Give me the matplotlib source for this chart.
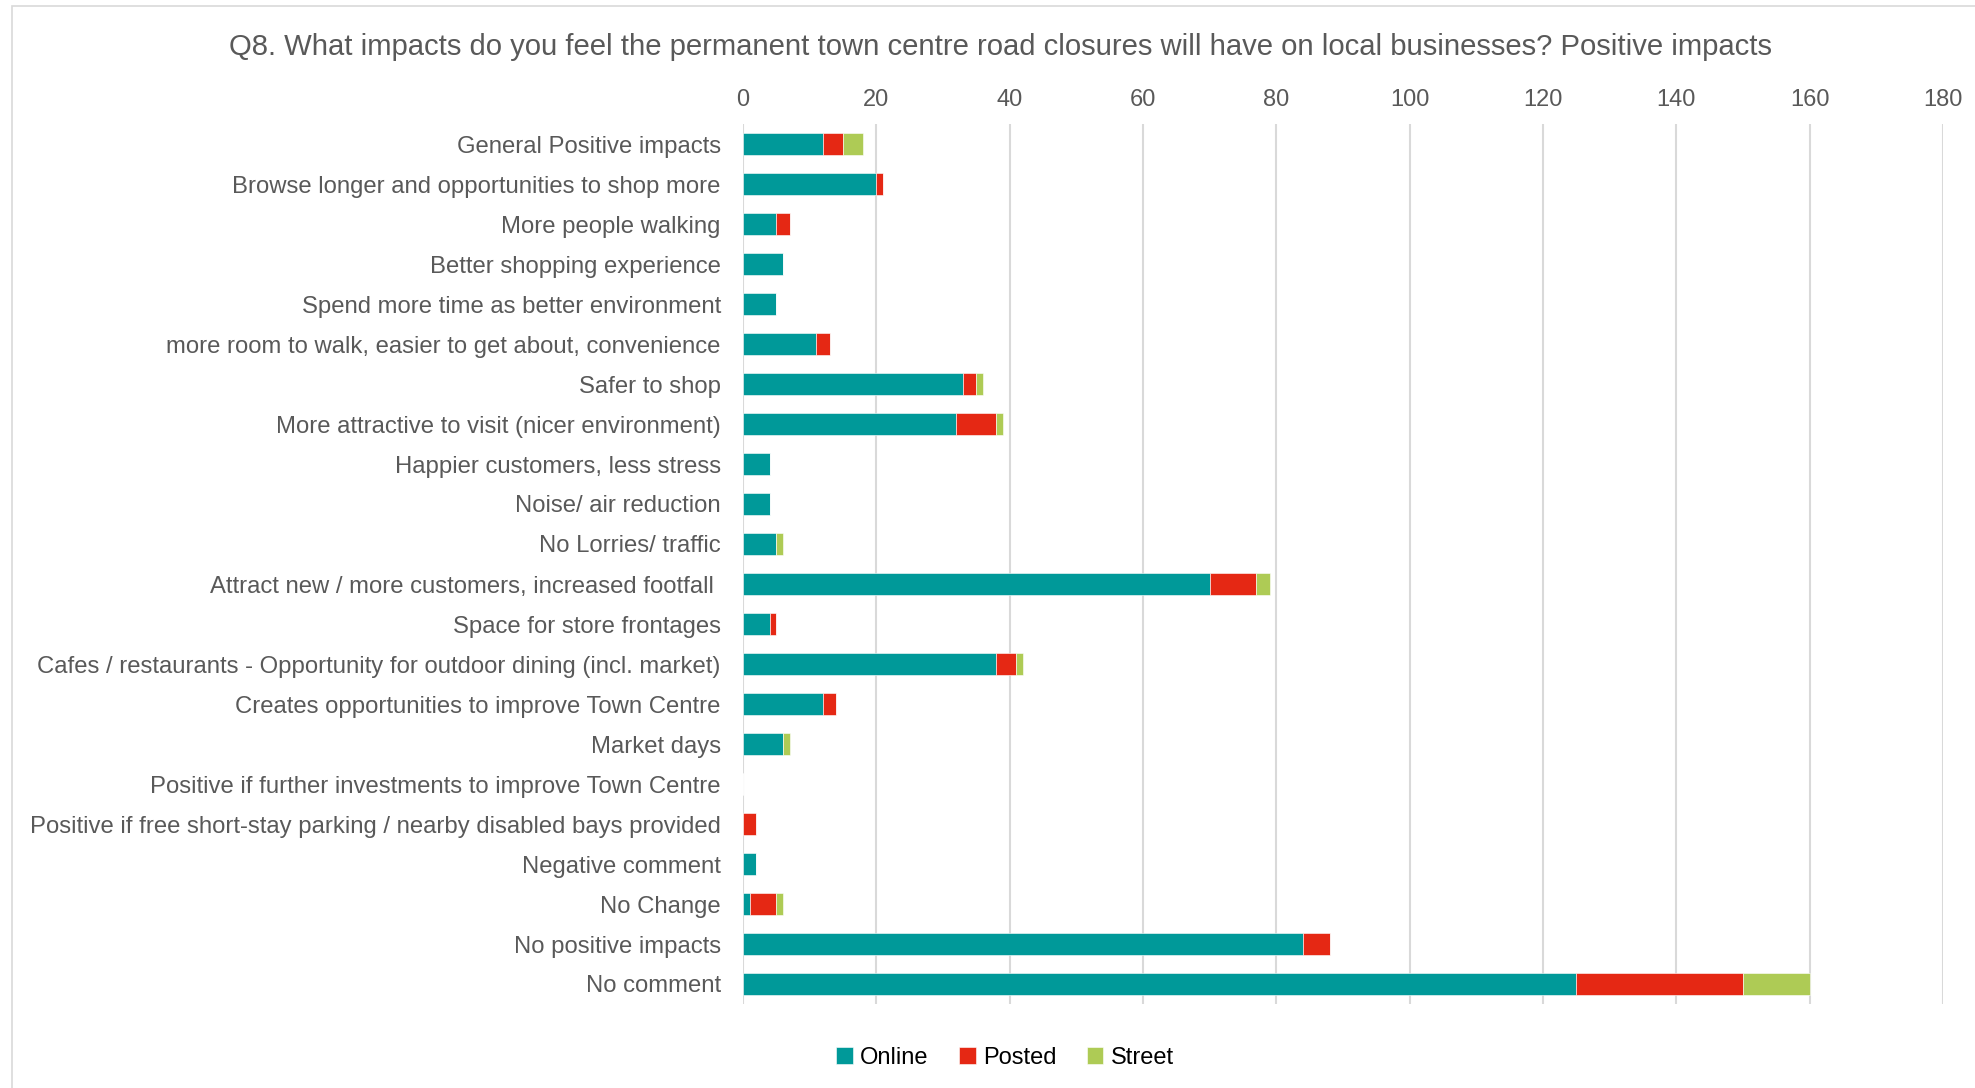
import matplotlib
matplotlib.use("Agg")
import matplotlib.pyplot as plt
from matplotlib.patches import Rectangle
import numpy as np

plt.rcParams['font.family'] = ['Liberation Sans', 'DejaVu Sans']

categories = [
    "General Positive impacts",
    "Browse longer and opportunities to shop more",
    "More people walking",
    "Better shopping experience",
    "Spend more time as better environment",
    "more room to walk, easier to get about, convenience",
    "Safer to shop",
    "More attractive to visit (nicer environment)",
    "Happier customers, less stress",
    "Noise/ air reduction",
    "No Lorries/ traffic",
    "Attract new / more customers, increased footfall ",
    "Space for store frontages",
    "Cafes / restaurants - Opportunity for outdoor dining (incl. market)",
    "Creates opportunities to improve Town Centre",
    "Market days",
    "Positive if further investments to improve Town Centre",
    "Positive if free short-stay parking / nearby disabled bays provided",
    "Negative comment",
    "No Change",
    "No positive impacts",
    "No comment",
]

online = [12, 20, 5, 6, 5, 11, 33, 32, 4, 4, 5, 70, 4, 38, 12, 6, 0, 0, 2, 1, 84, 125]
posted = [3, 1, 2, 0, 0, 2, 2, 6, 0, 0, 0, 7, 1, 3, 2, 0, 0, 2, 0, 4, 4, 25]
street = [3, 0, 0, 0, 0, 0, 1, 1, 0, 0, 1, 2, 0, 1, 0, 1, 0, 0, 0, 1, 0, 10]

series_names = ["Online", "Posted", "Street"]
colors = ["#009999", "#E52814", "#AECB55"]
xticks = list(range(0, 181, 20))
title = "Q8. What impacts do you feel the permanent town centre road closures will have on local businesses? Positive impacts"

W, H = 1975, 1088
fig = plt.figure(figsize=(W / 100, H / 100), dpi=100)

# outer chart border
fig.patches.append(Rectangle((12 / W, -0.05), 1.2, 1 - 6 / H + 0.05, transform=fig.transFigure,
                             fill=False, edgecolor="#D9D9D9", linewidth=1.2))

left, right = 743 / W, 1943 / W
top, bottom = 1 - 124 / H, 1 - 1004 / H
ax = fig.add_axes([left, bottom, right - left, top - bottom])

y = np.arange(len(categories))
on = np.array(online, dtype=float)
po = np.array(posted, dtype=float)
st = np.array(street, dtype=float)
bh = 0.53
ax.barh(y, on, height=bh, color=colors[0], label=series_names[0], edgecolor="white", linewidth=0.4, zorder=3)
ax.barh(y, po, left=on, height=bh, color=colors[1], label=series_names[1], edgecolor="white", linewidth=0.4, zorder=3)
ax.barh(y, st, left=on + po, height=bh, color=colors[2], label=series_names[2], edgecolor="white", linewidth=0.4, zorder=3)

ax.set_ylim(len(categories) - 0.5, -0.5)
ax.set_xlim(0, 180)
ax.set_xticks(xticks)
ax.xaxis.tick_top()
ax.set_yticks(y)
ax.set_yticklabels(categories)
ax.tick_params(axis='both', length=0, labelsize=17, labelcolor="#595959")
ax.tick_params(axis='y', labelsize=17.2, pad=16)
ax.tick_params(axis='x', pad=9.5)
for s in ax.spines.values():
    s.set_visible(False)
ax.grid(axis='x', color="#D9D9D9", linewidth=1.5, zorder=0)
ax.set_axisbelow(True)

fig.text(1000 / W, 1 - 47 / H, title, ha='center', va='center', fontsize=21.1, color="#595959")

leg = fig.legend(loc='center', bbox_to_anchor=(1005 / W, 1 - 1058 / H), ncol=3, frameon=False,
                 fontsize=17, handlelength=0.7, handleheight=0.7, handletextpad=0.3, columnspacing=1.3)

fig.savefig("out.png", dpi=100)
